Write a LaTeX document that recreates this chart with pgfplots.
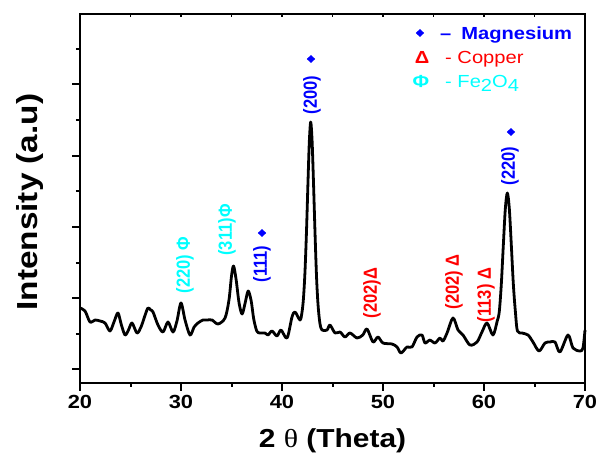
\documentclass[border=0pt]{standalone}
\usepackage{pgfplots}
\pgfplotsset{compat=1.18}
\usepackage{graphicx}
\usepackage{fontspec}
\setmainfont{Liberation Sans}[FakeStretch=1.15]
\newfontfamily\rotfont{Liberation Sans}
\newfontfamily\thetafont{Liberation Serif}[FakeStretch=1.15]
\definecolor{mgblue}{RGB}{0,0,255}
\definecolor{cured}{RGB}{255,0,0}
\definecolor{fecyan}{RGB}{0,255,255}
\newcommand{\rot}[2]{\scalebox{1.15}[1]{\rotatebox{90}{\rotfont\bfseries\fontsize{16.5bp}{16.5bp}\selectfont\color{#1}#2}}}

\pgfplotstableread{
x h
20.00 75
20.50 72
20.99 61
21.49 63
21.98 62
22.48 60
22.97 52
23.40 62
23.76 70
24.10 58
24.46 48
24.80 53
25.15 60
25.64 50
26.04 56
26.45 68
26.73 75
27.00 73
27.23 71
27.72 58
28.22 51
28.71 61
29.21 51
29.60 62
30.00 80
30.40 63
30.89 48
31.30 56
31.68 60
32.18 63
32.57 63
33.07 63
33.66 59
34.36 65
34.75 83
35.00 107
35.20 117
35.45 104
35.75 80
36.05 69
36.35 80
36.65 92
36.95 82
37.20 64
37.50 52
37.80 50
38.32 50
38.61 48
39.01 52
39.50 47
39.90 53
40.50 45
40.99 66
41.29 71
41.78 63
41.97 70
42.12 84
42.27 110
42.42 150
42.57 200
42.70 240
42.84 261
42.98 242
43.12 200
43.27 150
43.42 106
43.57 78
43.75 60
43.96 53
44.46 53
44.75 58
45.25 50
45.74 51
46.24 46
46.73 50
47.43 45
48.00 48
48.42 54
49.01 41
49.50 46
50.00 40
50.89 39
51.39 36
51.78 30
52.38 36
52.87 36
53.37 46
53.86 48
54.16 40
54.65 43
55.15 40
55.64 45
55.94 42
56.34 50
56.93 65
57.43 53
57.92 48
58.61 38
59.31 41
59.80 51
60.30 60
60.89 48
61.31 62
61.51 71
61.71 98
61.91 137
62.11 174
62.31 190
62.51 174
62.71 137
62.91 98
63.11 71
63.31 52
63.76 50
64.36 48
64.85 41
65.45 32
66.04 40
66.53 41
67.03 41
67.52 31
68.32 48
68.81 35
69.50 32
69.80 35
70.00 53
}\xrd

\begin{document}
\begin{tikzpicture}
\begin{axis}[
  at={(80bp,77bp)}, anchor=south west,
  scale only axis, width=505bp, height=369bp,
  xmin=20, xmax=70, ymin=0, ymax=369,
  clip=false,
  axis line style={line width=2.6bp},
  xtick={20,30,...,70}, minor xtick={25,35,...,65},
  ytick={13.5,84.5,155.5,227,298.5}, minor ytick={49,120,191.5,263,334},
  yticklabels={},
  xtick pos=left, ytick pos=left,
  tick align=outside,
  major tick length=7.5bp, minor tick length=4bp,
  every tick/.style={black, line width=2bp},
  /pgf/number format/assume math mode=true,
  xticklabel style={font=\bfseries\fontsize{19bp}{19bp}\selectfont, yshift=-1bp},
  xlabel={2 {\thetafont\mdseries θ} (Theta)},
  xlabel style={at={(axis description cs:0.5,-0.157)}, anchor=center, font=\bfseries\fontsize{26bp}{26bp}\selectfont},
  ylabel={Intensity (a.u)},
  ylabel style={at={(axis description cs:-0.099,0.49)}, anchor=center, rotate=0, font=\rotfont\bfseries\fontsize{29bp}{29bp}\selectfont, xscale=1.15},
]
\addplot[black, line width=2.8bp, smooth, tension=0.5, line join=round] table[x=x, y=h] {\xrd};
\addplot[only marks, mark=diamond*, mark size=3.6bp, mark options={xscale=1.4}, mgblue] coordinates {(38.02,150) (42.87,324) (62.67,251) (53.66,350)};

\node at (axis cs:30.4,118) {\rot{fecyan}{(220) Φ}};
\node at (axis cs:34.55,153) {\rot{fecyan}{(311)Φ}};
\node at (axis cs:38.02,119) {\rot{mgblue}{(111)}};
\node at (axis cs:42.97,288) {\rot{mgblue}{(200)}};
\node at (axis cs:62.57,217) {\rot{mgblue}{(220)}};
\node at (axis cs:48.91,90) {\rot{cured}{(202)Δ}};
\node at (axis cs:57.03,101) {\rot{cured}{(202) Δ}};
\node at (axis cs:60.2,88) {\rot{cured}{(113) Δ}};

\node[anchor=base west, inner sep=0pt, text=mgblue, font=\bfseries\fontsize{17.5bp}{17.5bp}\selectfont] at (axis cs:55.64,343) {–\hspace{10bp}Magnesium};
\node[anchor=base, inner sep=0pt, text=cured, font=\bfseries\fontsize{17.5bp}{17.5bp}\selectfont] at (axis cs:53.86,319) {Δ};
\node[anchor=base west, inner sep=0pt, text=cured, font=\fontsize{17.5bp}{17.5bp}\selectfont] at (axis cs:56.14,319) {- Copper};
\node[anchor=base, inner sep=0pt, text=fecyan, font=\bfseries\fontsize{17.5bp}{17.5bp}\selectfont] at (axis cs:53.76,295) {Φ};
\node[anchor=base west, inner sep=0pt, text=fecyan, font=\fontsize{17.5bp}{17.5bp}\selectfont] at (axis cs:56.14,295) {- Fe\raisebox{-4bp}{2}O\raisebox{-4bp}{4}};
\end{axis}
\begin{axis}[
  at={(80bp,77bp)}, anchor=south west,
  scale only axis, width=505bp, height=369bp,
  xmin=20, xmax=70, ymin=0, ymax=369,
  axis line style={draw=none},
  xtick={25,30,...,65}, xticklabels={}, ytick=\empty,
  xtick pos=right, tick align=inside,
  major tick length=3.5bp,
  every tick/.style={black, line width=1.2bp},
]
\end{axis}
\pgfresetboundingbox
\path[use as bounding box] (0,0) rectangle (600bp,460bp);
\end{tikzpicture}
\end{document}
